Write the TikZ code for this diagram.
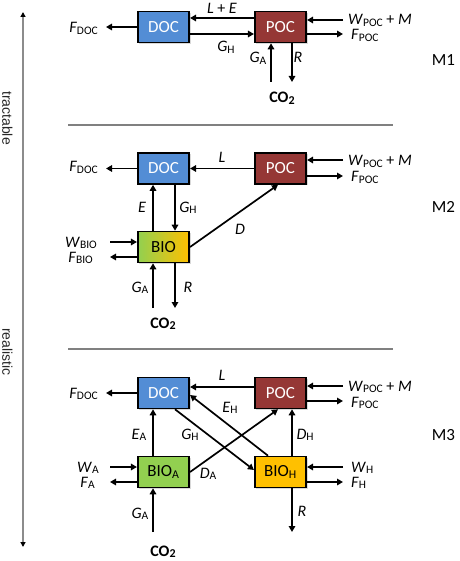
\documentclass[tikz,border=0pt]{standalone}
\usepackage{fontspec}
\setmainfont{Carlito}
\newfontfamily\axisfont{Liberation Sans}
\usetikzlibrary{arrows.meta,shadows}
\definecolor{docblue}{RGB}{83,141,213}
\definecolor{pocred}{RGB}{149,55,53}
\definecolor{biogreen}{RGB}{146,208,80}
\definecolor{biogold}{RGB}{255,192,0}
\newcommand\lsub[1]{\raisebox{-1.8pt}{\fontsize{11.5}{11.5}\selectfont\upshape #1}}
\newcommand\bsub[1]{\raisebox{-1.6pt}{\fontsize{12}{12}\selectfont #1}}
\tikzset{
  box/.style={draw=black, line width=1.6pt, minimum width=51.5pt, minimum height=31pt,
    inner sep=0pt, font=\fontsize{17}{19}\selectfont,
    drop shadow={shadow xshift=1.5pt, shadow yshift=-1.5pt, opacity=0.3}},
  docbox/.style={box, fill=docblue, text=white},
  pocbox/.style={box, fill=pocred, text=white},
  flow/.style={line width=1.7pt, -{Triangle[length=6pt,width=6.5pt]}},
  lbl/.style={inner sep=0pt, font=\fontsize{16}{18}\selectfont},
  mlabel/.style={inner sep=0pt, font=\fontsize{17}{19}\selectfont, text=black},
  sepline/.style={draw=gray, line width=1.1pt},
  axisline/.style={draw=gray!90, line width=1.3pt,
    {Triangle[length=5pt,width=5pt,color=black]}-{Triangle[length=5pt,width=5pt,color=black]}},
  axislabel/.style={inner sep=0pt, rotate=-90, font=\axisfont\fontsize{14}{16}\selectfont, text=black!85},
}
\begin{document}
\begin{tikzpicture}[x=1pt,y=-1pt]
\useasboundingbox (0,0) rectangle (459,561);
% axis and separators
\coordinate (axt) at (23,12);
\coordinate (axb) at (23,547);
\draw[axisline] (axt) -- (axb);
\node[axislabel] (tract) at (7.5,118) {tractable};
\node[axislabel] (real) at (7.5,352) {realistic};
\coordinate (s1a) at (68,125); \coordinate (s1b) at (393,125);
\coordinate (s2a) at (68,349); \coordinate (s2b) at (393,349);
\draw[sepline] (s1a) -- (s1b);
\draw[sepline] (s2a) -- (s2b);

% ---------------- M1
\node[docbox] (DOC1) at (163.5,27) {DOC};
\node[pocbox] (POC1) at (280.5,27) {POC};
\coordinate (fdoc1) at (106,27);
\coordinate (wpoc1) at (343,20);
\coordinate (fpoc1) at (343,34);
\coordinate (ga1) at (271,82);
\coordinate (r1) at (292,82);
\draw[flow] ([yshift=9pt]POC1.west) -- ([yshift=9pt]DOC1.east);
\draw[flow] ([yshift=-7pt]DOC1.east) -- ([yshift=-7pt]POC1.west);
\draw[flow] (DOC1.west) -- (fdoc1);
\draw[flow] (wpoc1) -- (POC1.east |- wpoc1);
\draw[flow] (POC1.east |- fpoc1) -- (fpoc1);
\draw[flow] (ga1) -- (ga1 |- POC1.south);
\draw[flow] (r1 |- POC1.south) -- (r1);
\node[lbl, anchor=base east] (l1a) at (98,33) {\textit{F}\lsub{DOC}};
\node[lbl, anchor=base] (l1b) at (222,14) {\textit{L} + \textit{E}};
\node[lbl, anchor=base] (l1c) at (226,52) {\textit{G}\lsub{H}};
\node[lbl, anchor=base west] (l1d) at (348,24.5) {\textit{W}\lsub{POC} + \textit{M}};
\node[lbl, anchor=base west] (l1e) at (351,40) {\textit{F}\lsub{POC}};
\node[lbl, anchor=base] (l1f) at (258,63) {\textit{G}\lsub{A}};
\node[lbl, anchor=base] (l1g) at (298,63) {\textit{R}};
\node[lbl, anchor=base] (co1) at (282,103) {\textbf{CO\bsub{2}}};
\node[mlabel, anchor=base] (m1) at (443.5,66) {M1};

% ---------------- M2
\node[docbox] (DOC2) at (163.5,168.5) {DOC};
\node[pocbox] (POC2) at (280.5,168.5) {POC};
\node[box, left color=biogreen, right color=biogold, text=black] (BIO2) at (163.5,247) {BIO};
\coordinate (fdoc2) at (106,168.5);
\coordinate (wpoc2) at (343,160);
\coordinate (fpoc2) at (343,176);
\coordinate (wbio2) at (110,242);
\coordinate (fbio2) at (110,257);
\coordinate (ga2) at (153,308);
\coordinate (r2) at (175,308);
\draw[flow] (POC2.west) -- (DOC2.east);
\draw[flow] (DOC2.west) -- (fdoc2);
\draw[flow] (wpoc2) -- (POC2.east |- wpoc2);
\draw[flow] (POC2.east |- fpoc2) -- (fpoc2);
\draw[flow] ([xshift=-10.5pt]BIO2.north) -- ([xshift=-10.5pt]DOC2.south);
\draw[flow] ([xshift=11.5pt]DOC2.south) -- ([xshift=11.5pt]BIO2.north);
\draw[flow] (wbio2) -- (BIO2.west |- wbio2);
\draw[flow] (BIO2.west |- fbio2) -- (fbio2);
\draw[flow] (BIO2.east) -- ([xshift=-2.5pt]POC2.south);
\draw[flow] (ga2) -- (ga2 |- BIO2.south);
\draw[flow] (r2 |- BIO2.south) -- (r2);
\node[lbl, anchor=base east] (l2a) at (98,172) {\textit{F}\lsub{DOC}};
\node[lbl, anchor=base] (l2b) at (222,163) {\textit{L}};
\node[lbl, anchor=base west] (l2c) at (348,166) {\textit{W}\lsub{POC} + \textit{M}};
\node[lbl, anchor=base west] (l2d) at (351,182) {\textit{F}\lsub{POC}};
\node[lbl, anchor=base] (l2e) at (142,212) {\textit{E}};
\node[lbl, anchor=base] (l2f) at (188,212) {\textit{G}\lsub{H}};
\node[lbl, anchor=base east] (l2g) at (97,247) {\textit{W}\lsub{BIO}};
\node[lbl, anchor=base east] (l2h) at (93,262) {\textit{F}\lsub{BIO}};
\node[lbl, anchor=base] (l2i) at (240,234) {\textit{D}};
\node[lbl, anchor=base] (l2j) at (140,292) {\textit{G}\lsub{A}};
\node[lbl, anchor=base] (l2k) at (188,292) {\textit{R}};
\node[lbl, anchor=base] (co2) at (163,328) {\textbf{CO\bsub{2}}};
\node[mlabel, anchor=base] (m2) at (443.5,212) {M2};

% ---------------- M3
\node[docbox] (DOC3) at (163.5,393) {DOC};
\node[pocbox] (POC3) at (280.5,393) {POC};
\node[box, fill=biogreen, text=black] (BA3) at (163.5,472) {BIO\textsubscript{A}};
\node[box, fill=biogold, text=black] (BH3) at (280.5,472) {BIO\textsubscript{H}};
\coordinate (fdoc3) at (106,393);
\coordinate (wpoc3) at (343,386);
\coordinate (fpoc3) at (343,401);
\coordinate (wa3) at (110,467);
\coordinate (fa3) at (110,482);
\coordinate (wh3) at (343,467);
\coordinate (fh3) at (343,482);
\coordinate (ga3) at (153,532);
\coordinate (r3) at (292,532);
\draw[flow] ([yshift=6pt]POC3.west) -- ([yshift=6pt]DOC3.east);
\draw[flow] (DOC3.west) -- (fdoc3);
\draw[flow] (wpoc3) -- (POC3.east |- wpoc3);
\draw[flow] (POC3.east |- fpoc3) -- (fpoc3);
\draw[flow] ([xshift=-10.5pt]BA3.north) -- ([xshift=-10.5pt]DOC3.south);
\draw[flow] ([xshift=11.5pt]DOC3.south) -- ([yshift=2pt]BH3.west);
\draw[flow] ([xshift=-12.5pt]BH3.north) -- ([yshift=-2pt]DOC3.east);
\draw[flow] (BA3.east) -- ([xshift=-2.5pt]POC3.south);
\draw[flow] ([xshift=11.5pt]BH3.north) -- ([xshift=11.5pt]POC3.south);
\draw[flow] (wa3) -- (BA3.west |- wa3);
\draw[flow] (BA3.west |- fa3) -- (fa3);
\draw[flow] (wh3) -- (BH3.east |- wh3);
\draw[flow] (BH3.east |- fh3) -- (fh3);
\draw[flow] (ga3) -- (ga3 |- BA3.south);
\draw[flow] (r3 |- BH3.south) -- (r3);
\node[lbl, anchor=base east] (l3a) at (98,398) {\textit{F}\lsub{DOC}};
\node[lbl, anchor=base] (l3b) at (222,380) {\textit{L}};
\node[lbl, anchor=base west] (l3c) at (348,391) {\textit{W}\lsub{POC} + \textit{M}};
\node[lbl, anchor=base west] (l3d) at (351,407) {\textit{F}\lsub{POC}};
\node[lbl, anchor=base] (l3e) at (230,412) {\textit{E}\lsub{H}};
\node[lbl, anchor=base] (l3f) at (190,439) {\textit{G}\lsub{H}};
\node[lbl, anchor=base] (l3g) at (139,439) {\textit{E}\lsub{A}};
\node[lbl, anchor=base] (l3h) at (305,439) {\textit{D}\lsub{H}};
\node[lbl, anchor=base east] (l3i) at (99,472) {\textit{W}\lsub{A}};
\node[lbl, anchor=base east] (l3j) at (95,487) {\textit{F}\lsub{A}};
\node[lbl, anchor=base] (l3k) at (208,478) {\textit{D}\lsub{A}};
\node[lbl, anchor=base west] (l3l) at (351,472) {\textit{W}\lsub{H}};
\node[lbl, anchor=base west] (l3m) at (351,487) {\textit{F}\lsub{H}};
\node[lbl, anchor=base] (l3n) at (140,518) {\textit{G}\lsub{A}};
\node[lbl, anchor=base] (l3o) at (302,516) {\textit{R}};
\node[lbl, anchor=base] (co3) at (163,556) {\textbf{CO\bsub{2}}};
\node[mlabel, anchor=base] (m3) at (443.5,440) {M3};
\end{tikzpicture}
\end{document}
